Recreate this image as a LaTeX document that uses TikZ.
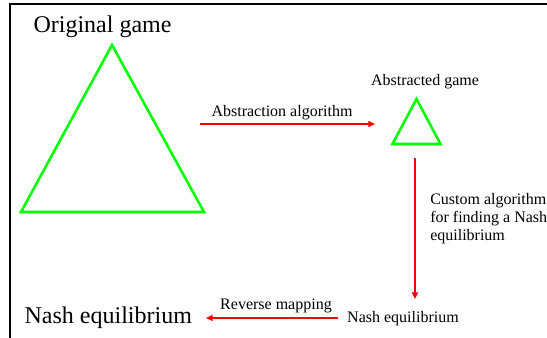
\documentclass[tikz,border=0pt]{standalone}
\usepackage{fontspec}
\setmainfont{Liberation Serif}
\usepackage{tikz}
\usetikzlibrary{arrows.meta}
\definecolor{gamegreen}{RGB}{0, 255, 0}
\definecolor{steparrow}{RGB}{255, 0, 0}

\begin{document}
\begin{tikzpicture}[x=0.75pt, y=-0.75pt,
    bigtext/.style={font=\fontsize{18}{21}\selectfont, anchor=base, inner sep=0pt},
    smalltext/.style={font=\fontsize{12}{13.5}\selectfont, anchor=base, inner sep=0pt},
    gametri/.style={gamegreen, line width=1.9pt, line join=miter},
    flow/.style={steparrow, line width=1.5pt, -{Triangle[length=5pt, width=4.5pt]}}]
        \useasboundingbox (0,0) rectangle (547,338);
        % frame
        \draw[line width=1.5pt] (10,338) -- (10,4.5) -- (547,4.5);
        % games
        \node[bigtext] (orig) at (102.5,33) {Original game};
        \draw[gametri] (112,45) -- (204,212) -- (21,212) -- cycle;
        \node[smalltext] (abs) at (425,86) {Abstracted game};
        \draw[gametri] (416.5,99) -- (440.5,144) -- (392.5,144) -- cycle;
        % equilibria
        \node[smalltext] (nashsmall) at (403,323) {Nash equilibrium};
        \node[bigtext] (nashbig) at (108.3,324) {Nash equilibrium};
        % arrows
        \coordinate (absfrom) at (200,124);
        \coordinate (absto) at (375,124);
        \draw[flow] (absfrom) -- (absto);
        \node[smalltext] (absalg) at (282,116.7) {Abstraction algorithm};
        \coordinate (solvefrom) at (415,158);
        \coordinate (solveto) at (415,299);
        \draw[flow] (solvefrom) -- (solveto);
        \node[smalltext, anchor=base west, align=left] (custom) at (430,241)
            {Custom algorithm\\for finding a Nash\\equilibrium};
        \coordinate (revfrom) at (338,318);
        \coordinate (revto) at (206,318);
        \draw[flow] (revfrom) -- (revto);
        \node[smalltext] (revmap) at (276,310) {Reverse mapping};
    \end{tikzpicture}
\end{document}
